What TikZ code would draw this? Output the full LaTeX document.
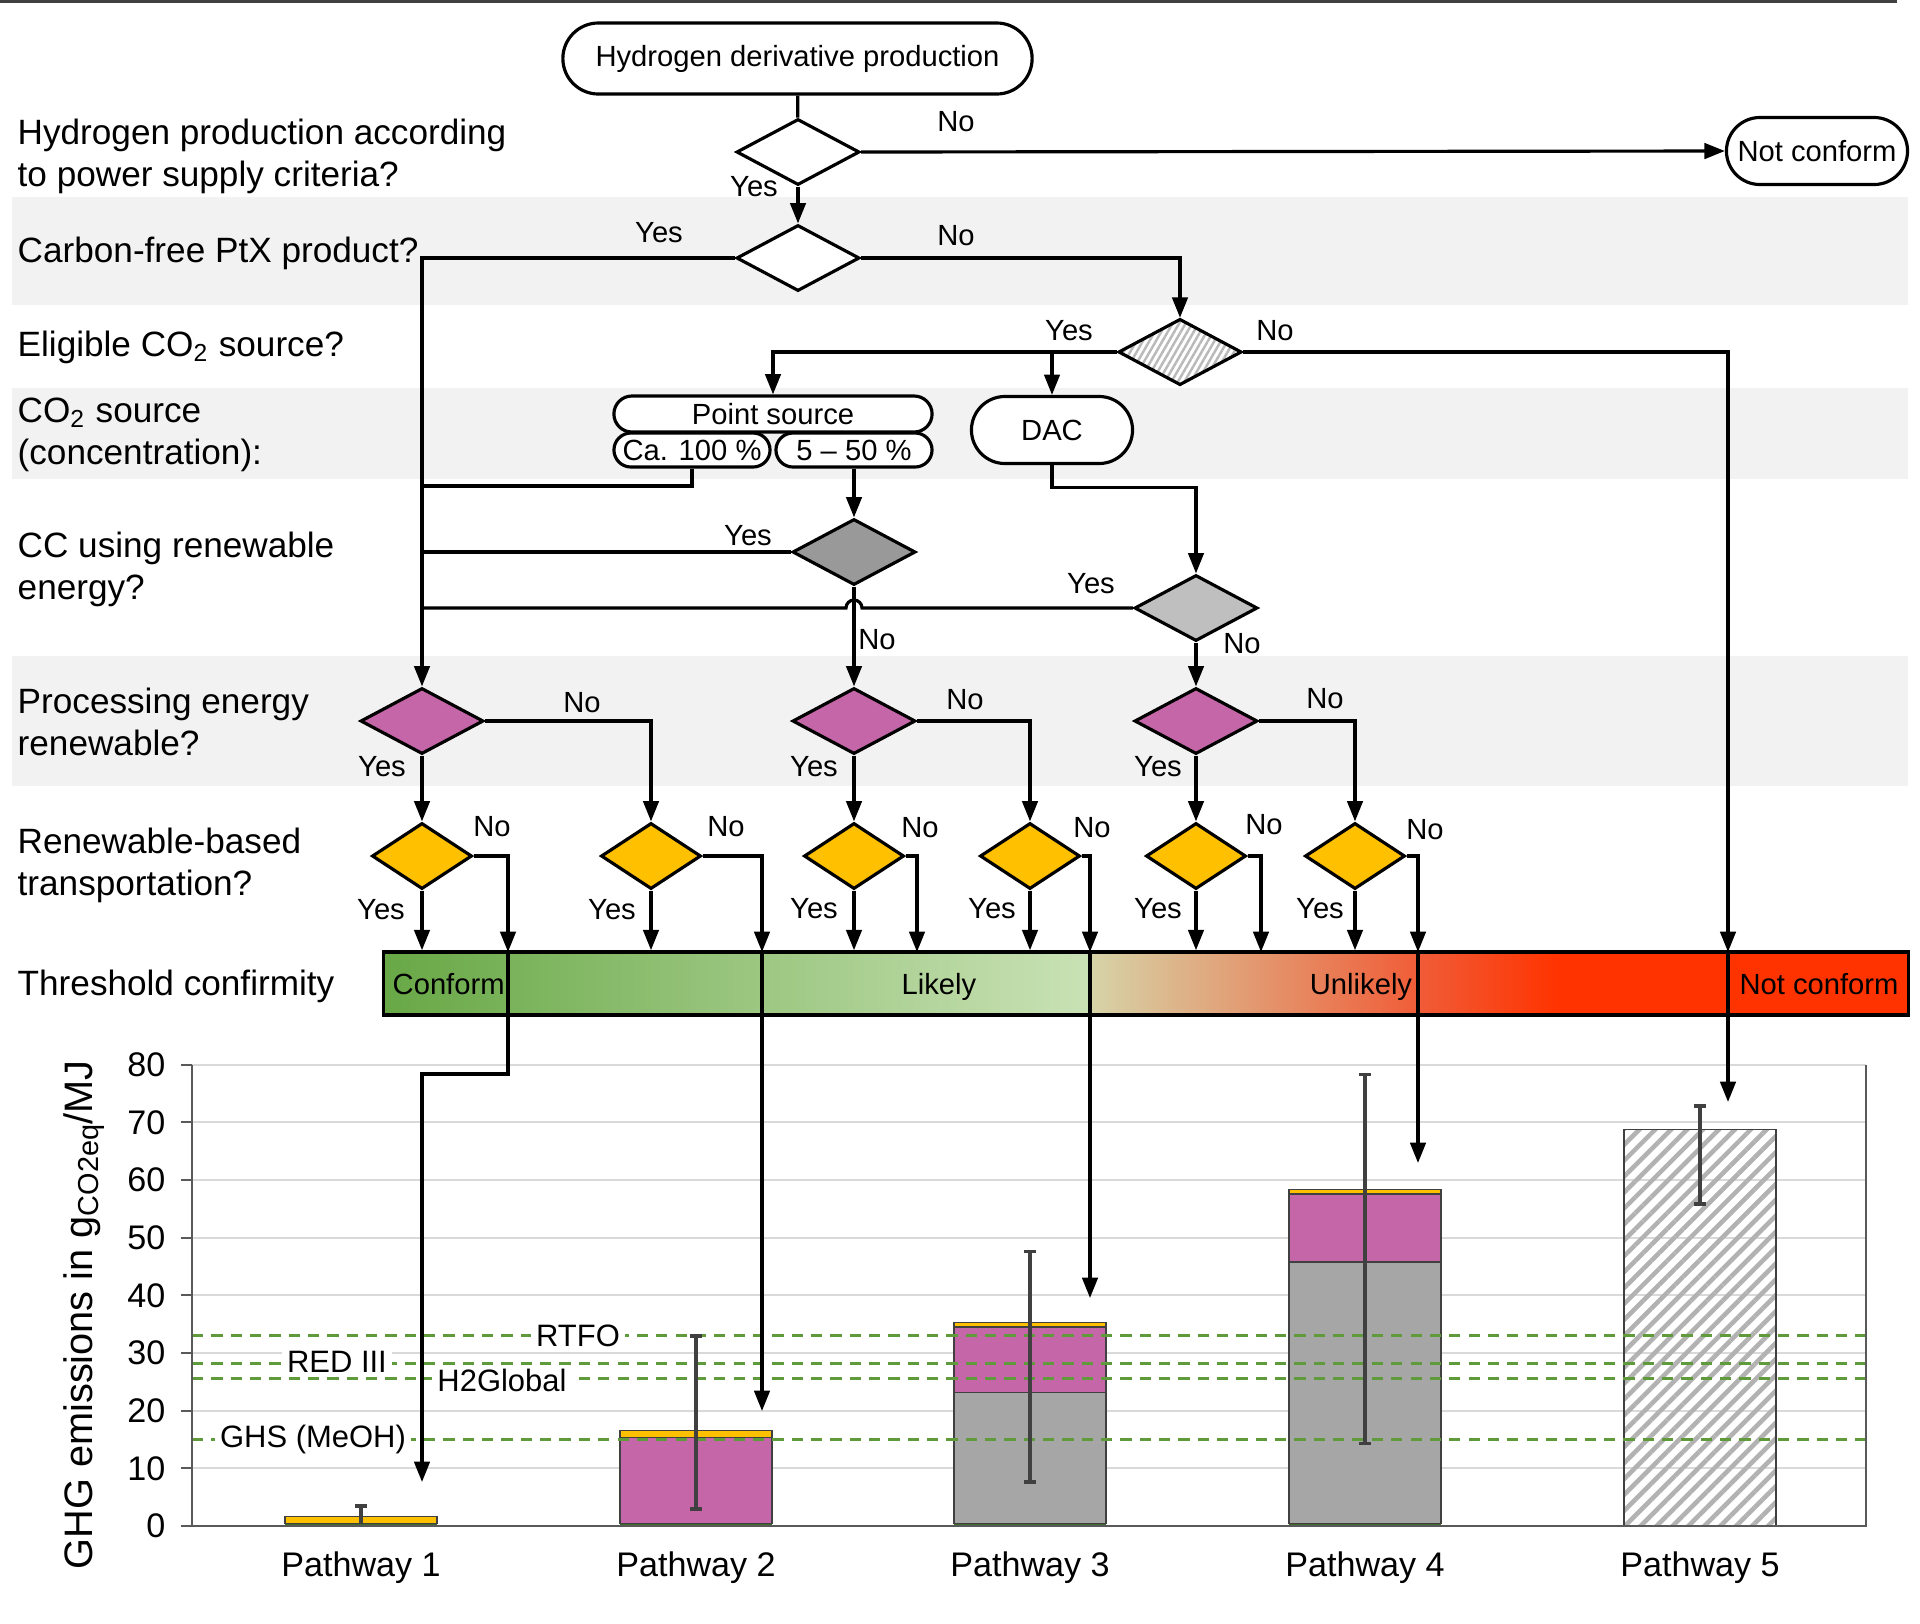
\documentclass[tikz,border=0pt]{standalone}
\usepackage{fontspec}
\setmainfont{Liberation Sans}
\usetikzlibrary{shapes.geometric,shapes.misc,arrows.meta,patterns.meta}

\definecolor{bandgray}{HTML}{F2F2F2}
\definecolor{pinkdec}{HTML}{C566A8}
\definecolor{golddec}{HTML}{FFC000}
\definecolor{darkdec}{HTML}{999999}
\definecolor{lightdec}{HTML}{BFBFBF}
\definecolor{bargray}{HTML}{A6A6A6}
\definecolor{basegreen}{HTML}{3F6B2A}
\definecolor{limitgreen}{HTML}{5F9B3A}
\definecolor{gridgray}{HTML}{D9D9D9}
\definecolor{axisgray}{HTML}{595959}
\definecolor{errgray}{HTML}{404040}
\definecolor{gradA}{RGB}{104,168,70}
\definecolor{gradB}{RGB}{202,226,182}
\definecolor{gradBB}{RGB}{214,212,168}
\definecolor{gradC}{RGB}{224,146,102}
\definecolor{gradD}{RGB}{240,92,55}
\definecolor{gradE}{RGB}{255,51,0}

\tikzset{
  terminal/.style={rounded rectangle, draw, line width=0.9pt, fill=white,
    font=\fontsize{8.3}{10}\selectfont, inner sep=0pt},
  decision/.style={diamond, draw, line width=0.9pt, minimum width=1.23cm,
    minimum height=0.66cm, inner sep=0pt},
  transdec/.style={decision, fill=golddec, minimum width=1cm},
  chartbar/.style={draw=errgray, line width=0.4pt},
  errbar/.style={draw=errgray, line width=1.1pt},
  limit/.style={draw=limitgreen, line width=0.85pt, dash pattern=on 3.2pt off 2.3pt},
  limtext/.style={fill=white, inner xsep=1.5pt, inner ysep=0.5pt, font=\fontsize{8.8}{10}\selectfont},
}

\begin{document}
\begin{tikzpicture}[x=0.01cm, y=-0.01cm,
    flow/.style={line width=0.9pt, -{Triangle[length=5.8pt,width=4.4pt]}},
    wire/.style={line width=0.9pt},
    yn/.style={font=\fontsize{8.3}{10}\selectfont, inner sep=0pt},
    rowtext/.style={anchor=west, align=left, inner sep=0pt, font=\fontsize{10}{12}\selectfont}]
\useasboundingbox (0,0) rectangle (1920,1623);

% background bands and top rule
\fill[bandgray] (12,197) rectangle (1908,305);
\fill[bandgray] (12,388) rectangle (1908,479);
\fill[bandgray] (12,656) rectangle (1908,786);
\draw[black!75, line width=0.6pt] (0,1.5) -- (1897,1.5);

% row questions
\node[rowtext] (r1) at (17,156) {Hydrogen production according\\to power supply criteria?};
\node[rowtext] (r2) at (17,253) {Carbon-free PtX product?};
\node[rowtext] (r3) at (17,347) {Eligible CO\textsubscript{2} source?};
\node[rowtext] (r4) at (17,435) {CO\textsubscript{2} source\\(concentration):};
\node[rowtext] (r5) at (17,569) {CC using renewable\\energy?};
\node[rowtext] (r6) at (17,722) {Processing energy\\renewable?};
\node[rowtext] (r7) at (17,865) {Renewable-based\\transportation?};
\node[rowtext] (r8) at (17,986) {Threshold confirmity};

% threshold bar
\shade[left color=gradA, right color=gradB] (384,952) rectangle (1090,1015);
\shade[left color=gradBB, middle color=gradC, right color=gradD] (1090,952) rectangle (1420,1015);
\shade[left color=gradD, right color=gradE] (1420,952) rectangle (1560,1015);
\fill[gradE] (1560,952) rectangle (1908,1015);
\node[draw, line width=1pt, minimum width=15.24cm, minimum height=0.63cm, inner sep=0pt] (bar) at (1146,983.5) {};
\begin{scope}[every node/.style={font=\fontsize{8.3}{10}\selectfont, inner sep=0pt}]
\node[anchor=base west] (conf) at (392,994) {Conform};
\node[anchor=base] (likely) at (939,994) {Likely};
\node[anchor=base] (unlikely) at (1361,994) {Unlikely};
\node[anchor=base] (notconf) at (1819,994) {Not conform};
\end{scope}

% emission chart
\begin{scope}[shift={(0,1526)}, y=0.057625cm]
  \foreach \v in {10,20,...,80}
    \draw[gridgray, line width=0.55pt] (192,\v) -- (1866,\v);
  % pathway 1
  \fill[basegreen] (285,0) rectangle (437,0.4);
  \draw[chartbar, fill=golddec] (285,0.4) rectangle (437,1.6);
  % pathway 2
  \fill[basegreen] (620,0) rectangle (772,0.4);
  \draw[chartbar, fill=pinkdec] (620,0.4) rectangle (772,15.3);
  \draw[chartbar, fill=golddec] (620,15.3) rectangle (772,16.6);
  % pathway 3
  \fill[basegreen] (954,0) rectangle (1106,0.4);
  \draw[chartbar, fill=bargray] (954,0.4) rectangle (1106,23.2);
  \draw[chartbar, fill=pinkdec] (954,23.2) rectangle (1106,34.5);
  \draw[chartbar, fill=golddec] (954,34.5) rectangle (1106,35.3);
  % pathway 4
  \fill[basegreen] (1289,0) rectangle (1441,0.4);
  \draw[chartbar, fill=bargray] (1289,0.4) rectangle (1441,45.8);
  \draw[chartbar, fill=pinkdec] (1289,45.8) rectangle (1441,57.6);
  \draw[chartbar, fill=golddec] (1289,57.6) rectangle (1441,58.4);
  % pathway 5
  \draw[chartbar, pattern={Lines[angle=45,distance=3.2pt,line width=1.3pt]}, pattern color=gray!60]
    (1624,0) rectangle (1776,68.8);
  % limits
  \draw[limit] (192,33) -- (1866,33);
  \draw[limit] (192,28.2) -- (1866,28.2);
  \draw[limit] (192,25.5) -- (1866,25.5);
  \draw[limit] (192,15) -- (1866,15);
  \node[limtext] (rtfo) at (578,33) {RTFO};
  \node[limtext] (red) at (337,28.4) {RED III};
  \node[limtext] (h2g) at (502,25.2) {H2Global};
  \node[limtext] (ghs) at (313,15) {GHS (MeOH)};
  % error bars
  \draw[errbar] (361,0.5) -- (361,3.5) (355,3.5) -- (367,3.5);
  \draw[errbar] (696,3) -- (696,33) (690,3) -- (702,3) (690,33) -- (702,33);
  \draw[errbar] (1030,7.7) -- (1030,47.6) (1024,7.7) -- (1036,7.7) (1024,47.6) -- (1036,47.6);
  \draw[errbar] (1365,14.3) -- (1365,78.3) (1359,14.3) -- (1371,14.3) (1359,78.3) -- (1371,78.3);
  \draw[errbar] (1700,55.8) -- (1700,72.8) (1694,55.8) -- (1706,55.8) (1694,72.8) -- (1706,72.8);
  % axes
  \draw[axisgray, line width=0.6pt] (192,80) -- (192,0) -- (1866,0) -- (1866,80);
  \foreach \v in {0,10,...,80} {
    \draw[axisgray, line width=0.6pt] (181,\v) -- (192,\v);
    \node[anchor=east, inner sep=0pt, font=\fontsize{9.7}{11}\selectfont] at (166,\v) {\v};
  }
  \begin{scope}[every node/.style={inner sep=0pt, font=\fontsize{9.7}{11}\selectfont}]
  \node (pw1) at (361,-7.3) {Pathway 1};
  \node (pw2) at (696,-7.3) {Pathway 2};
  \node (pw3) at (1030,-7.3) {Pathway 3};
  \node (pw4) at (1365,-7.3) {Pathway 4};
  \node (pw5) at (1700,-7.3) {Pathway 5};
  \end{scope}
\end{scope}
\node[rotate=90, inner sep=0pt, font=\fontsize{11.3}{13}\selectfont] (ylab) at (84,1315)
  {GHG emissions in g\raisebox{-0.3ex}{\fontsize{8.2}{9}\selectfont CO2eq}/MJ};

% flowchart nodes
\node[terminal, minimum width=4.69cm, minimum height=0.71cm] (start) at (797.5,58.5) {Hydrogen derivative production};
\node[terminal, minimum width=1.81cm, minimum height=0.67cm] (nc) at (1817,151) {Not conform};
\node[terminal, minimum width=3.18cm, minimum height=0.36cm] (ps) at (773,414) {Point source};
\node[terminal, minimum width=1.56cm, minimum height=0.34cm] (ca) at (692,450) {Ca. 100 \%};
\node[terminal, minimum width=1.56cm, minimum height=0.34cm] (fifty) at (854,450) {5 -- 50 \%};
\node[terminal, minimum width=1.61cm, minimum height=0.67cm] (dac) at (1052,430) {DAC};

\node[decision, fill=white] (q1) at (798,152) {};
\node[decision, fill=white] (q2) at (798,258) {};
\node[decision, pattern={Lines[angle=60,distance=1.6pt,line width=0.7pt]}, pattern color=gray!55] (q3) at (1180,352) {};
\node[decision, fill=darkdec] (q4) at (854,552) {};
\node[decision, fill=lightdec] (q5) at (1196,608) {};
\begin{scope}[every node/.style={decision, fill=pinkdec}]
\node (p1) at (422,721) {};
\node (p2) at (854,721) {};
\node (p3) at (1196,721) {};
\end{scope}
\begin{scope}[every node/.style={transdec}]
\node (y1) at (422,856) {};
\node (y2) at (651,856) {};
\node (y3) at (854,856) {};
\node (y4) at (1030,856) {};
\node (y5) at (1196,856) {};
\node (y6) at (1355,856) {};
\end{scope}

% drop points on the bar and arrow ends in the chart
\coordinate (t1) at (508,952);
\coordinate (t2) at (762,952);
\coordinate (t3) at (917,952);
\coordinate (t4) at (1090,952);
\coordinate (t5) at (1728,952);
\coordinate (t6) at (1261,952);
\coordinate (t7) at (1418,952);
\coordinate (k1) at (508,1074);
\coordinate (c1) at (422,1482);
\coordinate (c2) at (762,1411);
\coordinate (c4) at (1090,1298);
\coordinate (c5) at (1728,1102);
\coordinate (c7) at (1418,1163);

% connectors
\draw[wire] (start) -- (q1);
\draw[flow] (q1) -- (q2);
\draw[flow] (q1.east) -- (nc.west);
\draw[flow] (q2.west) -| (p1.north);
\draw[flow] (q2.east) -| (q3.north);
\draw[flow] (q3.west) -| (ps.north);
\draw[flow] (q3.west -| dac.north) -- (dac.north);
\draw[flow] (q3.east) -| (t5);
\draw[flow] (t5) -- (c5);
\draw[wire] (ca.south) |- (422,486);
\draw[flow] (fifty.south) -- (q4.north);
\draw[wire] (q4.west) -- (422,552);
\draw[flow] (q4.south) -- (p2.north);
\draw[flow] (dac.south) -- ++(0,22.5) -| (q5.north);
\draw[wire] (q5.west) -- (862,608) arc[start angle=0, end angle=180, radius=0.08cm] -- (422,608);
\draw[flow] (q5.south) -- (p3.north);

\draw[flow] (p1.south) -- (y1.north);
\draw[flow] (p2.south) -- (y3.north);
\draw[flow] (p3.south) -- (y5.north);
\draw[flow] (p1.east) -| (y2.north);
\draw[flow] (p2.east) -| (y4.north);
\draw[flow] (p3.east) -| (y6.north);

\draw[flow] (y1.south) -- (y1.south |- bar.north);
\draw[flow] (y2.south) -- (y2.south |- bar.north);
\draw[flow] (y3.south) -- (y3.south |- bar.north);
\draw[flow] (y4.south) -- (y4.south |- bar.north);
\draw[flow] (y5.south) -- (y5.south |- bar.north);
\draw[flow] (y6.south) -- (y6.south |- bar.north);
\draw[flow] (y1.east) -| (t1);
\draw[flow] (y2.east) -| (t2);
\draw[flow] (y3.east) -| (t3);
\draw[flow] (y4.east) -| (t4);
\draw[flow] (y5.east) -| (t6);
\draw[flow] (y6.east) -| (t7);
\draw[flow] (t1) -- (k1) -| (c1);
\draw[flow] (t2) -- (c2);
\draw[flow] (t4) -- (c4);
\draw[flow] (t7) -- (c7);

% yes / no labels
\begin{scope}[every node/.style={yn}]
\node (n1) at (956,122) {No};
\node (e1) at (754,187) {Yes};
\node (e2) at (659,233) {Yes};
\node (n2) at (956,236) {No};
\node (e3) at (1069,331) {Yes};
\node (n3) at (1275,331) {No};
\node (e4) at (748,536) {Yes};
\node (n4) at (877,640) {No};
\node (e5) at (1091,584) {Yes};
\node (n5) at (1242,644) {No};
\node (np1) at (582,703) {No};
\node (ep1) at (382,767) {Yes};
\node (np2) at (965,700) {No};
\node (ep2) at (814,767) {Yes};
\node (np3) at (1325,699) {No};
\node (ep3) at (1158,767) {Yes};
\node (ny1) at (492,827) {No};
\node (ny2) at (726,827) {No};
\node (ny3) at (920,828) {No};
\node (ny4) at (1092,828) {No};
\node (ny5) at (1264,825) {No};
\node (ny6) at (1425,830) {No};
\node (ey1) at (381,910) {Yes};
\node (ey2) at (612,910) {Yes};
\node (ey3) at (814,909) {Yes};
\node (ey4) at (992,909) {Yes};
\node (ey5) at (1158,909) {Yes};
\node (ey6) at (1320,909) {Yes};
\end{scope}
\end{tikzpicture}
\end{document}
